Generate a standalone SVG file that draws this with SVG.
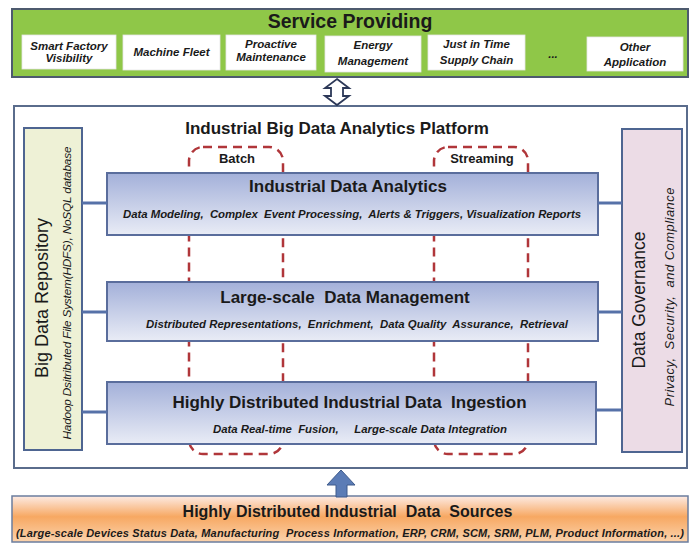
<svg xmlns="http://www.w3.org/2000/svg" width="693" height="544" viewBox="0 0 693 544">
<defs>
<linearGradient id="blueG" x1="0" y1="0" x2="0" y2="1">
<stop offset="0" stop-color="#a3b0d9"/>
<stop offset="1" stop-color="#e9ecf6"/>
</linearGradient>
<linearGradient id="orangeG" x1="0" y1="0" x2="0" y2="1">
<stop offset="0" stop-color="#fdebe4"/>
<stop offset="0.45" stop-color="#f7a862"/>
<stop offset="1" stop-color="#fbd3ad"/>
</linearGradient>
<style>
text{font-family:"Liberation Sans",Arial,sans-serif;fill:#1a1a1a;white-space:pre;}
.t{font-weight:bold;font-size:17px;text-anchor:middle;}
.s{font-weight:bold;font-style:italic;font-size:11.4px;text-anchor:middle;}
.svc{font-weight:bold;font-style:italic;font-size:11.5px;text-anchor:middle;}
.wbox{fill:#ffffff;stroke:#e6e6e6;stroke-width:0.8;}
.layer{fill:url(#blueG);stroke:#5a6d9c;stroke-width:2;}
.dash{fill:none;stroke:#b0363a;stroke-width:2.5;stroke-dasharray:9 6;}
.conn{stroke:#5671a8;stroke-width:3;fill:none;}
.side{font-size:18px;text-anchor:middle;}
.sidei{font-style:italic;font-size:11.8px;text-anchor:middle;}
.lbl{font-weight:bold;font-size:13px;text-anchor:middle;}
</style>
</defs>

<g id="service-providing">
<rect x="12" y="9" width="676" height="68" fill="#8fc748" stroke="#4d5a6e" stroke-width="2"/>
<text x="350" y="28" style="font-weight:bold;font-size:19.5px;text-anchor:middle;">Service Providing</text>
<g id="svc-smart-factory">
<rect class="wbox" x="22" y="35" width="94" height="34"/>
<text class="svc" x="69" y="50">Smart Factory</text>
<text class="svc" x="69" y="62">Visibility</text>
</g>
<g id="svc-machine-fleet">
<rect class="wbox" x="123" y="35" width="97" height="35"/>
<text class="svc" x="171.5" y="56">Machine Fleet</text>
</g>
<g id="svc-proactive">
<rect class="wbox" x="226" y="35" width="90" height="35"/>
<text class="svc" x="271" y="48">Proactive</text>
<text class="svc" x="271" y="61">Maintenance</text>
</g>
<g id="svc-energy">
<rect class="wbox" x="325" y="36" width="96" height="36"/>
<text class="svc" x="373" y="49">Energy</text>
<text class="svc" x="373" y="65">Management</text>
</g>
<g id="svc-jit">
<rect class="wbox" x="428" y="35" width="97" height="35"/>
<text class="svc" x="476.5" y="48">Just in Time</text>
<text class="svc" x="476.5" y="64">Supply Chain</text>
</g>
<text class="svc" x="553" y="58">...</text>
<g id="svc-other">
<rect class="wbox" x="587" y="37" width="96" height="34"/>
<text class="svc" x="635" y="51">Other</text>
<text class="svc" x="635" y="66">Application</text>
</g>
</g>

<g id="platform">
<rect x="14" y="106" width="673" height="362" fill="#ffffff" stroke="#5a6c8c" stroke-width="2"/>
<text class="t" x="337" y="134">Industrial Big Data Analytics Platform</text>
</g>

<g id="batch">
<rect class="dash" x="189" y="147" width="94" height="307" rx="14"/>
<text class="lbl" x="237" y="163">Batch</text>
</g>
<g id="streaming">
<rect class="dash" x="434" y="147" width="94" height="307" rx="14"/>
<text class="lbl" x="482" y="163">Streaming</text>
</g>

<g id="big-data-repository">
<rect x="24" y="128" width="58" height="322" fill="#eef1d6" stroke="#4e6591" stroke-width="2"/>
<text class="side" transform="translate(48,298) rotate(-90)">Big Data Repository</text>
<text class="sidei" transform="translate(71,293) rotate(-90)" textLength="293">Hadoop Dsitributed File System(HDFS), NoSQL database</text>
</g>

<g id="data-governance">
<rect x="622" y="129" width="60" height="323" fill="#ecdce6" stroke="#4e6591" stroke-width="2"/>
<text class="side" style="font-size:17.5px" transform="translate(645,300) rotate(-90)">Data Governance</text>
<text class="sidei" style="font-size:13px" transform="translate(674,297) rotate(-90)" textLength="219">Privacy,  Security,  and Compliance</text>
</g>

<g id="industrial-data-analytics">
<rect class="layer" x="107" y="173" width="491" height="62"/>
<text class="t" x="348" y="192">Industrial Data Analytics</text>
<text class="s" x="352" y="218" textLength="458">Data Modeling,  Complex  Event Processing,  Alerts &amp; Triggers, Visualization Reports</text>
</g>

<g id="data-management">
<rect class="layer" x="107" y="282" width="491" height="59"/>
<text class="t" x="345" y="303">Large-scale  Data Management</text>
<text class="s" x="357" y="328" textLength="422">Distributed Representations,  Enrichment,  Data Quality  Assurance,  Retrieval</text>
</g>

<g id="data-ingestion">
<rect class="layer" x="107" y="382" width="489" height="62"/>
<text class="t" x="349.5" y="408">Highly Distributed Industrial Data  Ingestion</text>
<text class="s" x="360" y="433" textLength="294">Data Real-time  Fusion,     Large-scale Data Integration</text>
</g>

<g id="data-sources">
<rect x="12" y="496" width="676" height="46" fill="url(#orangeG)" stroke="#6b7d9e" stroke-width="1.5"/>
<text class="t" style="font-size:16px" x="347.5" y="517">Highly Distributed Industrial  Data  Sources</text>
<text class="s" style="font-size:11px" x="350" y="537" textLength="668">(Large-scale Devices Status Data, Manufacturing  Process Information, ERP, CRM, SCM, SRM, PLM, Product Information, ...)</text>
</g>

<g id="connectors">
<line class="conn" x1="82" y1="203" x2="107" y2="203"/>
<line class="conn" x1="82" y1="312" x2="107" y2="312"/>
<line class="conn" x1="82" y1="412" x2="107" y2="412"/>
<line class="conn" x1="598" y1="203" x2="622" y2="203"/>
<line class="conn" x1="598" y1="312" x2="622" y2="312"/>
<line class="conn" x1="596" y1="410" x2="622" y2="410"/>
<polygon points="337,79 349,88 343,88 343,96 349,96 337,105 325,96 331,96 331,88 325,88" fill="#ffffff" stroke="#2c3858" stroke-width="1.8" stroke-linejoin="miter"/>
<polygon points="341,470 355,485 347,485 347,497 336,497 336,485 327,485" fill="#5b7cb6" stroke="#3e5b8c" stroke-width="1"/>
</g>
</svg>
